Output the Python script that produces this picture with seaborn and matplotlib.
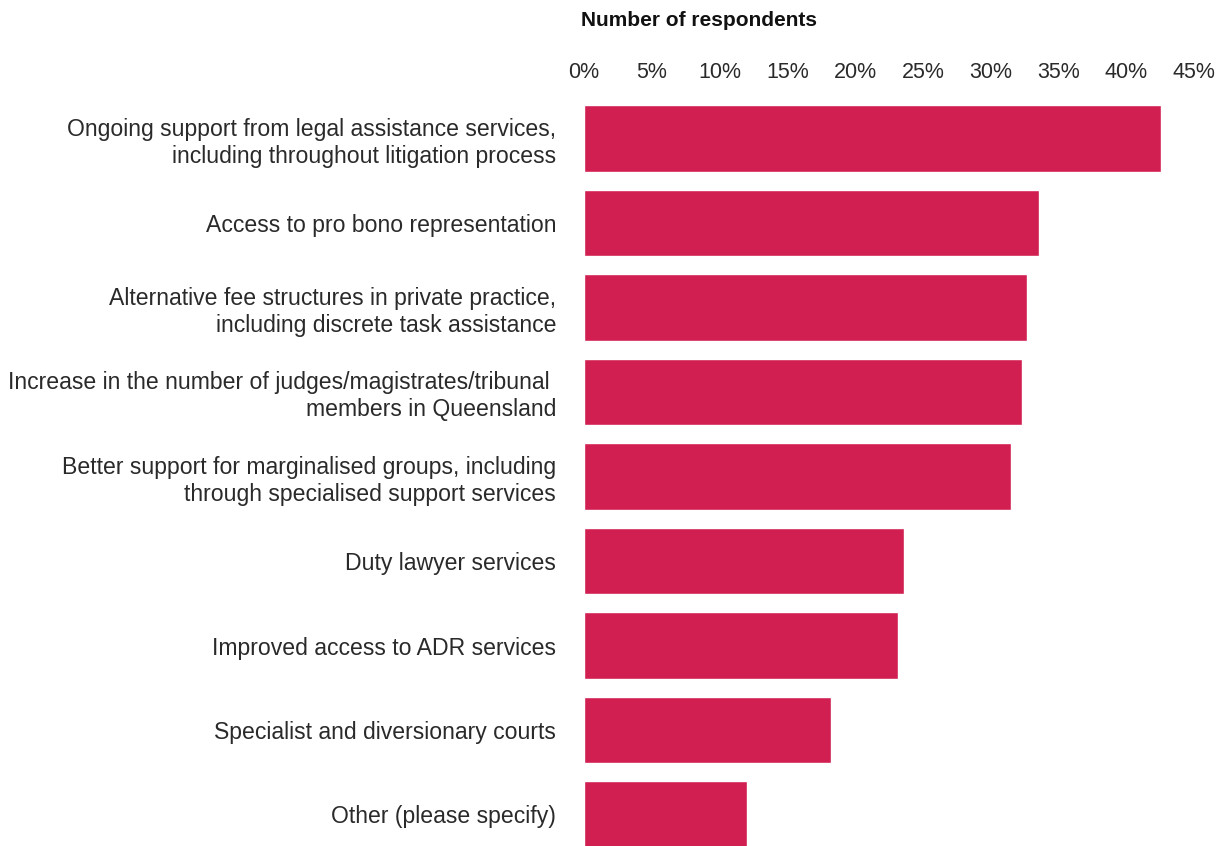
import matplotlib.pyplot as plt
import seaborn as sns
import pandas as pd

sns.set_theme(style="white")
plt.rcParams['font.family'] = ['Liberation Sans', 'DejaVu Sans']

categories = [
    "Ongoing support from legal assistance services,\nincluding throughout litigation process",
    "Access to pro bono representation",
    "Alternative fee structures in private practice,\nincluding discrete task assistance",
    "Increase in the number of judges/magistrates/tribunal \nmembers in Queensland",
    "Better support for marginalised groups, including\nthrough specialised support services",
    "Duty lawyer services",
    "Improved access to ADR services",
    "Specialist and diversionary courts",
    "Other (please specify)",
]
shares = [42.6, 33.6, 32.7, 32.3, 31.5, 23.6, 23.2, 18.2, 12.0]
tick_values = [0, 5, 10, 15, 20, 25, 30, 35, 40, 45]
tick_labels = [f"{v}%" for v in tick_values]

df = pd.DataFrame({"option": categories, "share": shares})

fig = plt.figure(figsize=(12.22, 8.46), dpi=100)
ax = fig.add_axes([584 / 1222, 1 - 856.75 / 846, (1194 - 584) / 1222, (856.75 - 96.25) / 846])

sns.barplot(data=df, y="option", x="share", orient="h", color="#D21F51",
            saturation=1, width=0.79, ax=ax)

ax.set_xlim(0, 45)
ax.set_ylim(8.5, -0.5)
ax.set_xticks(tick_values)
ax.set_xticklabels(tick_labels)
ax.xaxis.tick_top()
ax.tick_params(axis="x", length=0, pad=9.5, labelsize=15.5, labelcolor="#2a2a2a")
ax.tick_params(axis="y", length=0, pad=20, labelsize=16.6, labelcolor="#2a2a2a")
for lbl in ax.get_yticklabels():
    lbl.set_horizontalalignment("right")
    lbl.set_linespacing(1.2)
ax.set_xlabel("")
ax.set_ylabel("")
for s in ax.spines.values():
    s.set_visible(False)
ax.grid(False)

fig.text(581 / 1222, 1 - 21 / 846, "Number of respondents", fontsize=15,
         fontweight="bold", color="#111111", ha="left", va="center")

plt.savefig("out.png", dpi=100)
